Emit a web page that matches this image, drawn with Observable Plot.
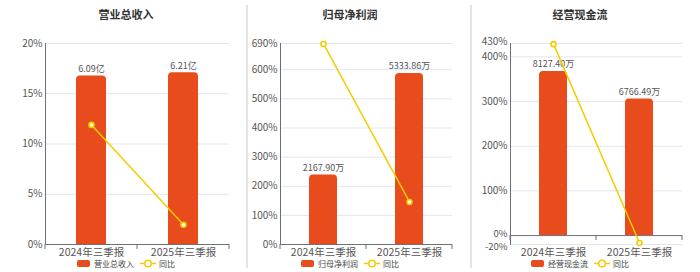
<!DOCTYPE html>
<html>
<head>
<meta charset="utf-8">
<script src="https://cdn.jsdelivr.net/npm/d3@7"></script>
<script src="https://cdn.jsdelivr.net/npm/@observablehq/plot@0.6"></script>
<style>
  html, body { margin: 0; padding: 0; background: #fff; }
  body { font-family: "Noto Sans CJK SC", "Noto Sans", sans-serif; }
  #root { position: relative; width: 700px; height: 272px; overflow: hidden; }
  .panel { position: absolute; top: 0; height: 272px; }
  .sep { position: absolute; top: 5px; width: 2px; height: 263px; background: #e3e3e3; }
  .title { position: absolute; top: 6px; transform: translateX(-50%); font-size: 11px; font-weight: bold; color: #333; white-space: nowrap; }
  .legend { position: absolute; top: 258px; transform: translateX(-50%); display: flex; align-items: center; font-size: 8px; color: #444; white-space: nowrap; }
  .sw { width: 13px; height: 7px; border-radius: 2px; background: #E84B1C; margin-right: 4px; }
  .ln { margin: 0 3px 0 6px; }
</style>
</head>
<body>
<div id="root"></div>
<script>
// ---- data ----
const periods = ["2024年三季报", "2025年三季报"];

const revenueTitle = "营业总收入";
const revenue = [6.09, 6.21];            // 亿
const revenueLabels = ["6.09亿", "6.21亿"];
const revenueYoY = [11.9, 1.97];         // %
const revenueTicks = [0, 5, 10, 15, 20];

const profitTitle = "归母净利润";
const profit = [2167.90, 5333.86];       // 万
const profitLabels = ["2167.90万", "5333.86万"];
const profitYoY = [688.5, 146.04];
const profitTicks = [0, 100, 200, 300, 400, 500, 600, 690];

const cashTitle = "经营现金流";
const cash = [8127.40, 6766.49];         // 万
const cashLabels = ["8127.40万", "6766.49万"];
const cashYoY = [428.5, -16.74];
const cashTicks = [-20, 0, 100, 200, 300, 400, 430];

const yoyName = "同比";

// ---- style ----
const RED = "#E84B1C";
const YELLOW = "#F5CC00";
const GRID = "#e0e6f1";
const AXIS = "#6e7079";
const TEXT = "#555";

const root = document.getElementById("root");

function boundaryTicks(base) {
  return (index, scales, values, dims) => {
    const x = scales.x, y = scales.y;
    const bw = x.bandwidth();
    const mid = (x(periods[0]) + bw + x(periods[1])) / 2;
    const xs = [dims.marginLeft, mid, dims.width - dims.marginRight];
    const y0 = y(base);
    const g = d3.create("svg:g");
    for (const xx of xs) {
      g.append("line").attr("x1", xx).attr("x2", xx).attr("y1", y0).attr("y2", y0 + 5)
        .attr("stroke", AXIS).attr("stroke-width", 1);
    }
    return g.node();
  };
}

function panel({left, width, ml, mr, center, title, bars, barMax, labels, yoy, ticks, nudge}) {
  const yDomain = [ticks[0], ticks[ticks.length - 1]];
  const k = yDomain[1] / barMax;
  const rows = periods.map((p, i) => ({period: p, bar: bars[i] * k, label: labels[i], yoy: yoy[i]}));
  const fmt = d => d + "%";
  const axisOpts = {tickFormat: fmt, tickSize: 0, tickPadding: 3, fill: TEXT, fontSize: 10};
  const axes = nudge
    ? [
        Plot.axisY({...axisOpts, ticks: ticks.slice(2, -1)}),
        Plot.axisY({...axisOpts, ticks: [ticks[0]], dy: 2.2, fontSize: 9.5}),
        Plot.axisY({...axisOpts, ticks: [ticks[1]], dy: -1.8, fontSize: 9.5}),
        Plot.axisY({...axisOpts, ticks: [ticks[ticks.length - 1]], dy: -1.5})
      ]
    : [Plot.axisY({...axisOpts, ticks})];

  const chart = Plot.plot({
    width, height: 272,
    marginTop: 43, marginBottom: 28, marginLeft: ml, marginRight: mr,
    style: {fontFamily: '"Noto Sans CJK SC", "Noto Sans", sans-serif', fontSize: "10px", color: TEXT, background: "transparent"},
    x: {domain: periods, paddingInner: 0.67, paddingOuter: 0.335, label: null},
    y: {domain: yDomain, label: null},
    marks: [
      Plot.gridY(ticks, {stroke: GRID, strokeOpacity: 1}),
      Plot.barY(rows, {x: "period", y: "bar", fill: RED, ry1: 4}),
      Plot.ruleY([0], {stroke: AXIS}),
      Plot.frame({anchor: "left", stroke: AXIS}),
      boundaryTicks(0),
      ...axes,
      Plot.axisX({tickSize: 0, tickPadding: 4, fill: TEXT, fontSize: 10.5, label: null}),
      Plot.text(rows, {x: "period", y: "bar", text: "label", dy: -7, fontSize: 9, fill: TEXT}),
      Plot.line(rows, {x: "period", y: "yoy", stroke: YELLOW, strokeWidth: 1.5}),
      Plot.dot(rows, {x: "period", y: "yoy", r: 2.5, fill: "#fff", stroke: YELLOW, strokeWidth: 1.6})
    ]
  });

  const div = document.createElement("div");
  div.className = "panel";
  div.style.left = left + "px";
  div.style.width = width + "px";
  div.appendChild(chart);
  root.appendChild(div);

  const t = document.createElement("div");
  t.className = "title";
  t.style.left = center + "px";
  t.textContent = title;
  root.appendChild(t);

  const lg = document.createElement("div");
  lg.className = "legend";
  lg.style.left = center + "px";
  lg.innerHTML = `<span class="sw"></span><span>${title}</span>` +
    `<svg class="ln" width="16" height="9"><line x1="0" x2="16" y1="4.5" y2="4.5" stroke="${YELLOW}" stroke-width="1.5"/>` +
    `<circle cx="8" cy="4.5" r="3.3" fill="#fff" stroke="${YELLOW}" stroke-width="1.5"/></svg><span>${yoyName}</span>`;
  root.appendChild(lg);
}

panel({left: 0, width: 247, ml: 45, mr: 18, center: 126, title: revenueTitle,
  bars: revenue, barMax: 7.27, labels: revenueLabels, yoy: revenueYoY, ticks: revenueTicks, nudge: false});
panel({left: 247, width: 224, ml: 33, mr: 19, center: 350, title: profitTitle,
  bars: profit, barMax: 6270, labels: profitLabels, yoy: profitYoY, ticks: profitTicks, nudge: false});
panel({left: 471, width: 229, ml: 39, mr: 18, center: 580, title: cashTitle,
  bars: cash, barMax: 9513, labels: cashLabels, yoy: cashYoY, ticks: cashTicks, nudge: true});

for (const x of [246, 470]) {
  const s = document.createElement("div");
  s.className = "sep";
  s.style.left = x + "px";
  root.appendChild(s);
}
</script>
</body>
</html>
